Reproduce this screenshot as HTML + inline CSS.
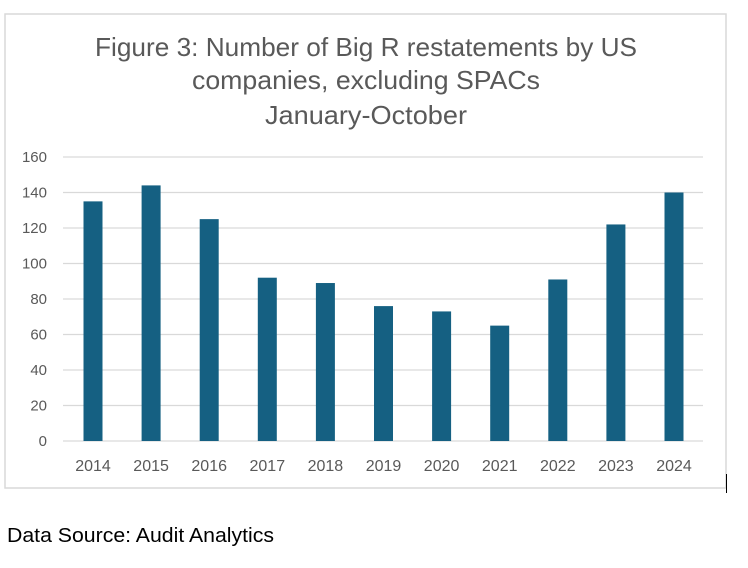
<!DOCTYPE html>
<html><head><meta charset="utf-8"><style>
body{margin:0;background:#fff;width:748px;height:563px;overflow:hidden;font-family:"Liberation Sans",sans-serif}
</style></head><body>
<svg width="748" height="563" xmlns="http://www.w3.org/2000/svg">
<rect x="5" y="14" width="721" height="474" fill="#fff" stroke="#d9d9d9" stroke-width="1.5"/>
<line x1="726.5" y1="474" x2="726.5" y2="493" stroke="#000" stroke-width="1"/>
<g font-size="26" fill="#595959" text-anchor="middle">
<text x="366" y="56" textLength="542" lengthAdjust="spacingAndGlyphs">Figure 3: Number of Big R restatements by US</text>
<text x="366" y="89" textLength="348" lengthAdjust="spacingAndGlyphs">companies, excluding SPACs</text>
<text x="366" y="124" textLength="202" lengthAdjust="spacingAndGlyphs">January-October</text>
</g>
<g id="grid"></g><g id="bars"></g><g id="xl"></g>
<text x="7" y="542" font-size="20" fill="#000" textLength="267" lengthAdjust="spacingAndGlyphs">Data Source: Audit Analytics</text>
</svg>
<script>
const years=["2014","2015","2016","2017","2018","2019","2020","2021","2022","2023","2024"];
const values=[135,144,125,92,89,76,73,65,91,122,140];
const yTicks=[0,20,40,60,80,100,120,140,160];
const NS="http://www.w3.org/2000/svg";
const y0=441,y1=157,yMax=160,xL=63,xR=703,x0=93,step=58.1,bw=19;
const y=v=>y0-(v/yMax)*(y0-y1);
const x=i=>x0+i*step;
function mk(t,a,p){const e=document.createElementNS(NS,t);for(const k in a)e.setAttribute(k,a[k]);p.appendChild(e);return e;}
const g=document.getElementById('grid'),b=document.getElementById('bars'),xl=document.getElementById('xl');
yTicks.forEach(v=>{
 const l=mk('line',{x1:xL,x2:xR,y1:y(v),y2:y(v),stroke:'#d9d9d9','stroke-width':1.3},g);
 
 
 const t=mk('text',{x:47,y:y(v)+5,'text-anchor':'end','font-size':15,fill:'#595959'},g);t.textContent=v;
 
 
});
years.forEach((yr,i)=>{
 const r=mk('rect',{x:x(i)-bw/2,y:y(values[i]),width:bw,height:y0-y(values[i]),fill:'#156082'},b);
 
 
 const t=mk('text',{x:x(i),y:471,'text-anchor':'middle','font-size':16,fill:'#595959'},xl);t.textContent=yr;
 
 
});
</script>
</body></html>
